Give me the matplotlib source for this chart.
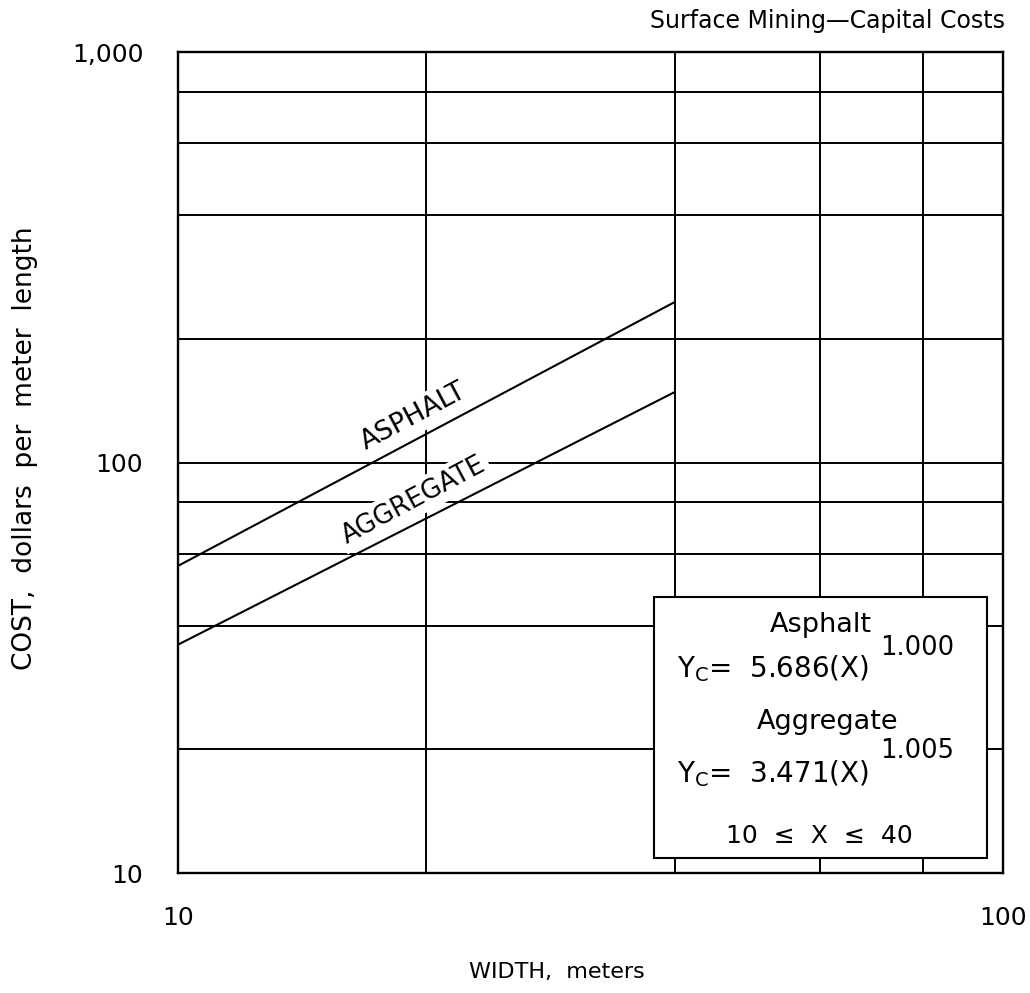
import math
import matplotlib
matplotlib.use("Agg")
import matplotlib.pyplot as plt
from matplotlib.ticker import NullFormatter
from matplotlib.patches import Rectangle

# values
width_m = [10, 40]
asphalt_cost = [56, 246]
aggregate_cost = [36, 148.5]

x_major = [10, 100]
x_major_labels = ["10", "100"]
x_minor = [20, 40, 60, 80]
y_major = [10, 100, 1000]
y_major_labels = ["10", "100", "1,000"]
y_minor = [20, 40, 60, 80, 200, 400, 600, 800]

plt.rcParams["font.family"] = ["DejaVu Sans"]

fig = plt.figure(figsize=(10.3, 9.93), dpi=100)
ax = fig.add_axes([0.1728, 0.1208, 0.801, 0.8268])
ax.set_xscale("log")
ax.set_yscale("log")
ax.set_xlim(10, 100)
ax.set_ylim(10, 1000)

ax.set_xticks(x_major, x_major_labels)
ax.set_xticks(x_minor, minor=True)
ax.set_yticks(y_major, y_major_labels)
ax.set_yticks(y_minor, minor=True)
ax.xaxis.set_minor_formatter(NullFormatter())
ax.yaxis.set_minor_formatter(NullFormatter())
ax.tick_params(which="both", length=0)
ax.tick_params(axis="x", pad=24, labelsize=18)
ax.tick_params(axis="y", pad=25, labelsize=18)
ax.grid(which="both", color="black", lw=1.4)
for s in ax.spines.values():
    s.set_linewidth(1.7)

ax.plot(width_m, asphalt_cost, color="black", lw=1.5, zorder=4)
ax.plot(width_m, aggregate_cost, color="black", lw=1.5, zorder=4)

# angle of the lines on screen
p1 = ax.transData.transform((width_m[0], asphalt_cost[0]))
p2 = ax.transData.transform((width_m[1], asphalt_cost[1]))
ang = math.degrees(math.atan2(p2[1] - p1[1], p2[0] - p1[0]))

lbl_box = dict(facecolor="white", edgecolor="none", pad=3)
ax.text(19.3, 129, "ASPHALT", rotation=ang, rotation_mode="anchor",
        ha="center", va="center", fontsize=19, bbox=lbl_box, zorder=3)
ax.text(19.3, 81, "AGGREGATE", rotation=ang, rotation_mode="anchor",
        ha="center", va="center", fontsize=18.5, bbox=lbl_box, zorder=3)

# equation box
ax.add_patch(Rectangle((0.577, 0.018), 0.404, 0.318, transform=ax.transAxes,
                       facecolor="white", edgecolor="black", lw=1.5, zorder=5))
tx = dict(transform=ax.transAxes, va="baseline", zorder=6)
ax.text(0.779, 0.2935, "Asphalt", ha="center", fontsize=19.5, **tx)
ax.text(0.851, 0.2655, "1.000", ha="left", fontsize=18.5, **tx)
ax.text(0.605, 0.2387, r"Y$_\mathregular{C}$=  5.686(X)", ha="left", fontsize=20, **tx)
ax.text(0.787, 0.1754, "Aggregate", ha="center", fontsize=19.5, **tx)
ax.text(0.851, 0.1401, "1.005", ha="left", fontsize=18.5, **tx)
ax.text(0.605, 0.1108, r"Y$_\mathregular{C}$=  3.471(X)", ha="left", fontsize=20, **tx)
ax.text(0.777, 0.0365, "10  ≤  X  ≤  40", ha="center", fontsize=18, **tx)

fig.text(0.9757, 0.9718, "Surface Mining—Capital Costs", ha="right",
         va="baseline", fontsize=17)
fig.text(557 / 1030, 1 - 978 / 993, "WIDTH,  meters", ha="center",
         va="baseline", fontsize=16)
fig.text(0.024, 0.549, "COST,  dollars  per  meter  length", rotation=90,
         ha="center", va="center", fontsize=19)

fig.savefig("out.png", dpi=100)
